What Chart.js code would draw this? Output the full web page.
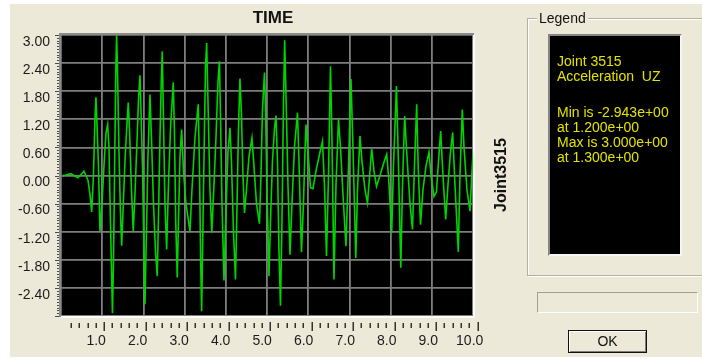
<!DOCTYPE html>
<html>
<head>
<meta charset="utf-8">
<script src="https://cdn.jsdelivr.net/npm/chart.js@4.4.1/dist/chart.umd.min.js"></script>
<style>
html,body{margin:0;padding:0;background:#fff;width:702px;height:359px;overflow:hidden;font-family:"Liberation Sans",Arial,sans-serif;color:#111;}
#panel{position:absolute;left:10px;top:4px;width:692px;height:353px;background:#ece9d8;}
#wrap{position:absolute;left:0;top:0;width:702px;height:359px;}
#title{position:absolute;left:223px;top:8px;width:100px;text-align:center;font-weight:bold;font-size:17px;line-height:20px;}
#ytitle{position:absolute;left:451px;top:165px;width:100px;height:20px;line-height:20px;text-align:center;font-weight:bold;font-size:16px;transform:rotate(-90deg);}
#group{position:absolute;left:527px;top:18px;width:190px;height:258px;box-sizing:border-box;border:1px solid #b3b09f;box-shadow:inset 1px 1px 0 #fff,1px 1px 0 #fff;}
#glabel{position:absolute;left:537px;top:9px;padding:0 2px;background:#ece9d8;font-size:14px;line-height:18px;}
#black{position:absolute;left:548px;top:34px;width:134px;height:222px;box-sizing:border-box;border:2px solid;border-color:#858585 #f6f5f0 #f6f5f0 #858585;background:#000;}
.lt{position:absolute;left:557px;font-size:14px;line-height:15px;color:#e2e200;white-space:pre;}
#lt1{top:53.5px;}
#lt2{top:104.5px;}
#bar{position:absolute;left:537px;top:292px;width:161px;height:21px;box-sizing:border-box;border:1px solid;border-color:#a3a092 #fff #fff #a3a092;}
#ok{position:absolute;left:568px;top:330px;width:79px;height:23px;box-sizing:border-box;border:1px solid #111;box-shadow:inset 1px 1px 0 #fff,inset -1px -1px 0 #7d7d7d;background:#ece9d8;text-align:center;font-size:14px;line-height:21px;}
</style>
</head>
<body>
<div id="panel"></div>
<div id="wrap"><canvas id="c" width="702" height="359"></canvas></div>
<div id="title">TIME</div>
<div id="ytitle">Joint3515</div>
<div id="group"></div>
<div id="glabel">Legend</div>
<div id="black"></div>
<div class="lt" id="lt1">Joint 3515
Acceleration  UZ</div>
<div class="lt" id="lt2">Min is -2.943e+00
at 1.200e+00
Max is 3.000e+00
at 1.300e+00</div>
<div id="bar"></div>
<div id="ok">OK</div>
<script>
// ---- data (time in s, acceleration UZ) ----
const times = [
  0.000,0.080,0.193,0.272,0.369,0.513,0.610,0.658,0.699,0.742,
  0.778,0.802,0.827,0.863,0.899,0.947,0.995,1.043,1.084,1.116,
  1.152,1.200,1.225,1.250,1.280,1.300,1.320,1.357,1.393,1.422,
  1.453,1.501,1.549,1.581,1.610,1.658,1.701,1.742,1.790,1.827,
  1.863,1.887,1.923,1.959,1.983,2.019,2.055,2.104,2.140,2.188,
  2.236,2.279,2.308,2.345,2.376,2.400,2.429,2.465,2.506,2.549,
  2.598,2.665,2.694,2.725,2.761,2.790,2.827,2.867,2.911,2.971,
  3.067,3.116,3.188,3.267,3.296,3.325,3.349,3.381,3.417,3.441,
  3.470,3.501,3.549,3.593,3.646,3.694,3.742,3.778,3.802,3.839,
  3.887,3.935,3.983,4.031,4.067,4.116,4.164,4.200,4.236,4.272,
  4.308,4.345,4.381,4.429,4.489,4.561,4.610,4.670,4.742,4.778,
  4.814,4.863,4.887,4.923,4.971,5.007,5.055,5.104,5.140,5.176,
  5.212,5.248,5.284,5.320,5.349,5.381,5.429,5.477,5.525,5.585,
  5.658,5.694,5.754,5.802,5.838,5.863,5.911,5.971,6.031,6.104,
  6.176,6.260,6.308,6.357,6.405,6.453,6.489,6.537,6.586,6.646,
  6.694,6.754,6.826,6.887,6.947,6.995,7.063,7.104,7.164,7.212,
  7.284,7.345,7.405,7.446,7.501,7.561,7.646,7.730,7.807,7.851,
  7.928,7.971,8.043,8.092,8.147,8.188,8.241,8.296,8.369,8.429,
  8.477,8.530,8.566,8.622,8.682,8.754,8.827,8.875,8.947,9.007,
  9.055,9.108,9.164,9.229,9.284,9.344,9.397,9.453,9.533,9.573,
  9.629,9.670,9.742,9.815,9.851,9.887
];
const accel = [
  0.00,0.01,0.04,0.00,-0.05,0.09,-0.10,-0.40,-0.78,0.00,
  1.20,1.67,1.10,0.20,-1.19,-0.60,0.20,0.90,1.09,0.60,
  -1.00,-2.943,-1.80,0.00,2.20,3.000,2.30,0.50,-0.80,-1.50,
  -0.80,0.30,1.10,1.56,1.00,-0.30,-1.19,-0.40,0.70,1.60,
  2.14,1.40,0.20,-1.60,-2.75,-1.20,0.40,1.73,0.80,-0.60,
  -1.60,-2.15,-0.90,0.80,2.00,2.65,1.20,-0.60,-1.58,-0.20,
  1.00,1.99,0.90,-1.00,-2.18,-1.00,0.40,0.98,0.10,-0.60,
  -1.19,-0.30,0.80,1.52,0.20,-1.80,-2.90,-1.00,1.00,2.30,
  2.83,1.60,-0.30,-1.22,-0.20,0.80,2.00,2.44,1.30,-0.60,
  -2.24,-0.80,0.50,1.02,0.30,-1.20,-2.22,-0.70,1.00,2.07,
  1.30,0.00,-0.80,-0.30,0.40,0.80,0.20,-0.60,-1.03,0.00,
  1.40,2.20,1.50,-0.30,-2.15,-1.00,0.30,1.00,1.28,0.30,
  -1.60,-2.78,-1.00,1.50,2.89,1.70,-0.20,-1.69,-0.60,0.60,
  1.34,0.30,-1.64,-0.60,0.50,1.09,0.50,-0.26,-0.28,0.10,
  0.40,0.73,-0.20,-1.72,0.00,2.33,0.80,-2.22,-0.20,1.20,
  0.60,-0.40,-1.51,0.20,2.06,0.60,-1.76,-0.30,0.84,0.30,
  -0.30,-0.58,0.10,0.57,0.10,-0.23,0.00,0.25,0.45,0.00,
  -1.22,0.20,1.91,0.20,-1.97,-0.20,1.27,0.40,-0.60,-1.15,
  0.20,1.52,0.20,-1.05,-0.30,0.20,0.50,0.00,-0.45,-0.35,
  0.30,0.95,0.00,-0.94,-0.20,0.50,0.92,-0.20,-1.63,0.00,
  1.41,0.60,-0.30,-0.76,-0.10,0.48
];
const xTickValues = [1,2,3,4,5,6,7,8,9,10];
const yTickValues = [3.0,2.4,1.8,1.2,0.6,0.0,-0.6,-1.2,-1.8,-2.4,-3.0];
const xMin = -0.04, xMax = 9.887;      // time range shown in the plot
const yMin = -3.0, yMax = 3.0;
const xMinorStep = 0.2, yMinorStep = 0.06;
const gridDivisions = 10;

const FONT = '"Liberation Sans", Arial, sans-serif';

const decor = {
  id: 'decor',
  beforeDraw(chart) {
    const {ctx, chartArea: a} = chart;
    ctx.save();
    ctx.fillStyle = '#000';
    ctx.fillRect(a.left, a.top, a.right - a.left, a.bottom - a.top);
    ctx.restore();
  },
  afterDraw(chart) {
    const {ctx, chartArea: a, scales} = chart;
    ctx.save();
    // sunken frame
    ctx.lineWidth = 2;
    ctx.strokeStyle = '#8a8a8a';
    ctx.beginPath();
    ctx.moveTo(a.left - 1, a.bottom + 1); ctx.lineTo(a.left - 1, a.top - 1); ctx.lineTo(a.right + 1, a.top - 1);
    ctx.stroke();
    ctx.strokeStyle = '#fbfbf7';
    ctx.beginPath();
    ctx.moveTo(a.right + 1, a.top); ctx.lineTo(a.right + 1, a.bottom + 1); ctx.lineTo(a.left, a.bottom + 1);
    ctx.stroke();
    // y minor/major tick marks on the left edge
    const ys = scales.y;
    ctx.strokeStyle = '#4a4a4a';
    ctx.lineWidth = 1;
    const ny = Math.round((yMax - yMin) / yMinorStep);
    for (let i = 0; i <= ny; i++) {
      const v = yMax - i * yMinorStep;
      const py = Math.round(ys.getPixelForValue(v)) + 0.5;
      const major = i % 10 === 0;
      ctx.beginPath();
      ctx.moveTo(a.left - 2 - (major ? 4 : 2), py);
      ctx.lineTo(a.left - 2, py);
      ctx.stroke();
    }
    // x ruler below the plot
    const xs = scales.x;
    ctx.strokeStyle = '#333';
    ctx.lineWidth = 1.5;
    const nx = Math.round(xTickValues[xTickValues.length - 1] / xMinorStep);
    for (let i = 1; i <= nx; i++) {
      const v = i * xMinorStep;
      const px = Math.round(xs.getPixelForValue(v)) + 0.25;
      const major = i % 5 === 0;
      ctx.beginPath();
      ctx.moveTo(px, a.bottom + (major ? 6 : 7));
      ctx.lineTo(px, a.bottom + (major ? 15 : 12));
      ctx.stroke();
    }
    ctx.restore();
  }
};

new Chart(document.getElementById('c'), {
  type: 'line',
  data: {
    datasets: [{
      label: 'Joint3515',
      data: times.map((t, i) => ({x: t, y: accel[i]})),
      borderColor: '#00d400',
      borderWidth: 1.6,
      pointRadius: 0,
      tension: 0,
      fill: false
    }]
  },
  options: {
    responsive: false,
    animation: false,
    events: [],
    layout: {padding: {left: 10, top: 35, right: 229, bottom: 0}},
    plugins: {legend: {display: false}, tooltip: {enabled: false}, title: {display: false}},
    scales: {
      x: {
        type: 'linear', position: 'bottom', min: xMin, max: xMax,
        grid: {display: false, drawTicks: false},
        border: {display: false},
        afterBuildTicks: s => { s.ticks = xTickValues.map(v => ({value: v})); },
        afterFit: s => { s.height = 43; },
        ticks: {
          autoSkip: false, maxRotation: 0, minRotation: 0, padding: 17, labelOffset: -8,
          color: '#1c1c1c', font: {family: FONT, size: 14},
          callback: v => Number(v).toFixed(1)
        }
      },
      xg: {
        type: 'linear', position: 'bottom', min: 0, max: gridDivisions,
        ticks: {display: false, stepSize: 1},
        grid: {color: '#7e7e7e', lineWidth: 1.8, drawTicks: false},
        border: {display: false},
        afterFit: s => { s.height = 0; }
      },
      y: {
        type: 'linear', position: 'left', min: yMin, max: yMax,
        grid: {color: '#7e7e7e', lineWidth: 1.8, drawTicks: false},
        border: {display: false},
        afterBuildTicks: s => { s.ticks = yTickValues.map(v => ({value: v})); },
        afterFit: s => { s.width = 51; },
        ticks: {
          padding: 11, labelOffset: 7, color: '#1c1c1c', font: {family: FONT, size: 14},
          callback: v => {
            if (v <= yMin + 1e-9) return '';
            const s = Number(v).toFixed(2);
            return s === '-0.00' ? '0.00' : s;
          }
        }
      }
    }
  },
  plugins: [decor]
});
</script>
</body>
</html>
